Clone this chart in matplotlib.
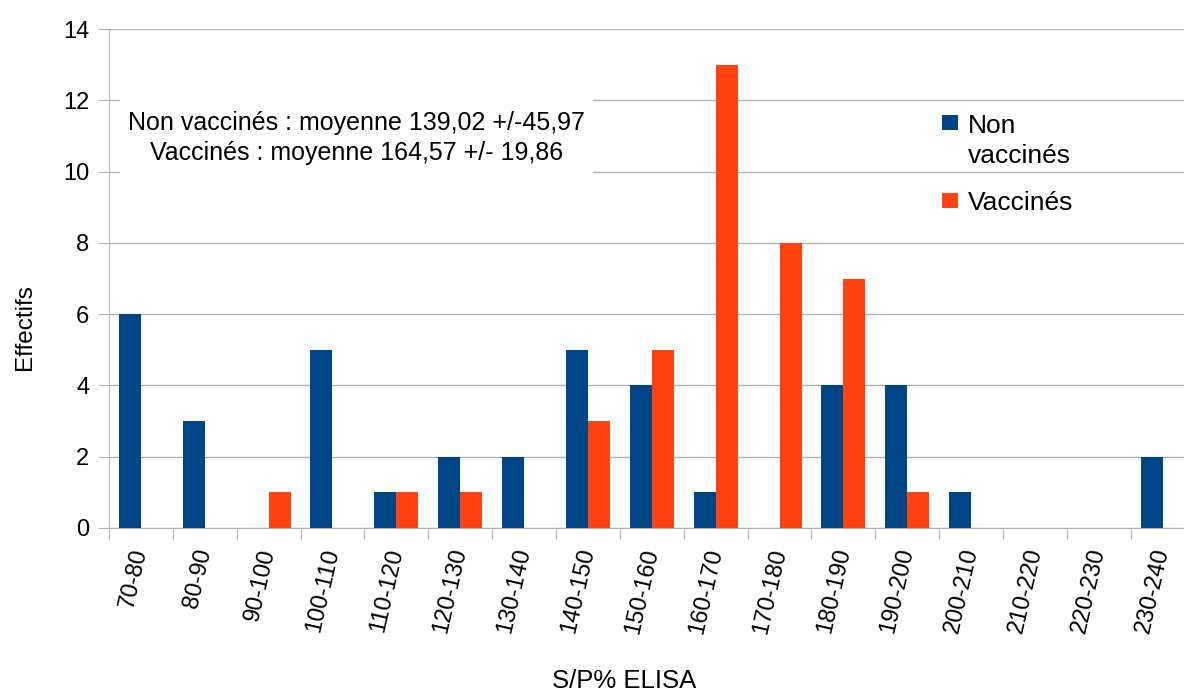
import numpy as np
import matplotlib.pyplot as plt
from matplotlib.patches import Rectangle

plt.rcParams['font.family'] = ['Liberation Sans', 'DejaVu Sans']

categories = ['70-80', '80-90', '90-100', '100-110', '110-120', '120-130', '130-140',
              '140-150', '150-160', '160-170', '170-180', '180-190', '190-200',
              '200-210', '210-220', '220-230', '230-240']
non_vaccines = [6, 3, 0, 5, 1, 2, 2, 5, 4, 1, 0, 4, 4, 1, 0, 0, 2]
vaccines = [0, 0, 1, 0, 1, 1, 0, 3, 5, 13, 8, 7, 1, 0, 0, 0, 0]

blue = '#004586'
orange = '#ff420e'
gray = '#b3b3b3'

fig = plt.figure(figsize=(11.84, 6.92), dpi=100)
# l'axe dépasse à droite de l'image (comme dans l'original)
ax = fig.add_axes([0.092, 0.237, 0.917, 0.721])

x = np.arange(len(categories))
w = 0.345
ax.bar(x - w / 2, non_vaccines, w, color=blue, zorder=3)
ax.bar(x + w / 2, vaccines, w, color=orange, zorder=3)

ax.set_xlim(-0.5, len(categories) - 0.5)
ax.set_ylim(0, 14)
ax.set_yticks(range(0, 15, 2))
ax.yaxis.grid(True, color=gray, lw=1)
ax.set_axisbelow(True)

# graduations aux limites des classes
ax.set_xticks(np.arange(len(categories) + 1) - 0.5)
ax.set_xticklabels([])
ax.set_xticks(x, minor=True)
ax.set_xticklabels(categories, minor=True, rotation=77, ha='right', va='center',
                   rotation_mode='anchor', fontsize=17)
ax.tick_params(axis='x', which='minor', length=0, pad=15)
ax.tick_params(axis='x', which='major', length=8, color=gray)
ax.tick_params(axis='y', length=8, color=gray, labelsize=17, pad=6)

for s in ['top', 'right']:
    ax.spines[s].set_visible(False)
for s in ['left', 'bottom']:
    ax.spines[s].set_color(gray)

fig.text(0.527, 0.016, 'S/P% ELISA', ha='center', va='center', fontsize=18.5)
fig.text(0.021, 0.527, 'Effectifs', ha='center', va='center', rotation=90, fontsize=17.5)

# encadré des moyennes
ax.add_patch(Rectangle((0.0101, 0.705), 0.4356, 0.163, transform=ax.transAxes,
                       facecolor='white', edgecolor='none', zorder=1))
ax.text(0.2284, 0.782, 'Non vaccinés : moyenne 139,02 +/-45,97\nVaccinés : moyenne 164,57 +/- 19,86',
        transform=ax.transAxes, ha='center', va='center', fontsize=18,
        linespacing=1.35, zorder=5)

# légende
ax.add_patch(Rectangle((0.767, 0.7976), 0.0147, 0.030, transform=ax.transAxes,
                       facecolor=blue, edgecolor='none', zorder=5))
ax.add_patch(Rectangle((0.767, 0.641), 0.0147, 0.030, transform=ax.transAxes,
                       facecolor=orange, edgecolor='none', zorder=5))
ax.text(0.791, 0.792, 'Non', transform=ax.transAxes, va='baseline', fontsize=19)
ax.text(0.791, 0.731, 'vaccinés', transform=ax.transAxes, va='baseline', fontsize=19)
ax.text(0.791, 0.637, 'Vaccinés', transform=ax.transAxes, va='baseline', fontsize=19)

fig.savefig('out.png', dpi=100)
